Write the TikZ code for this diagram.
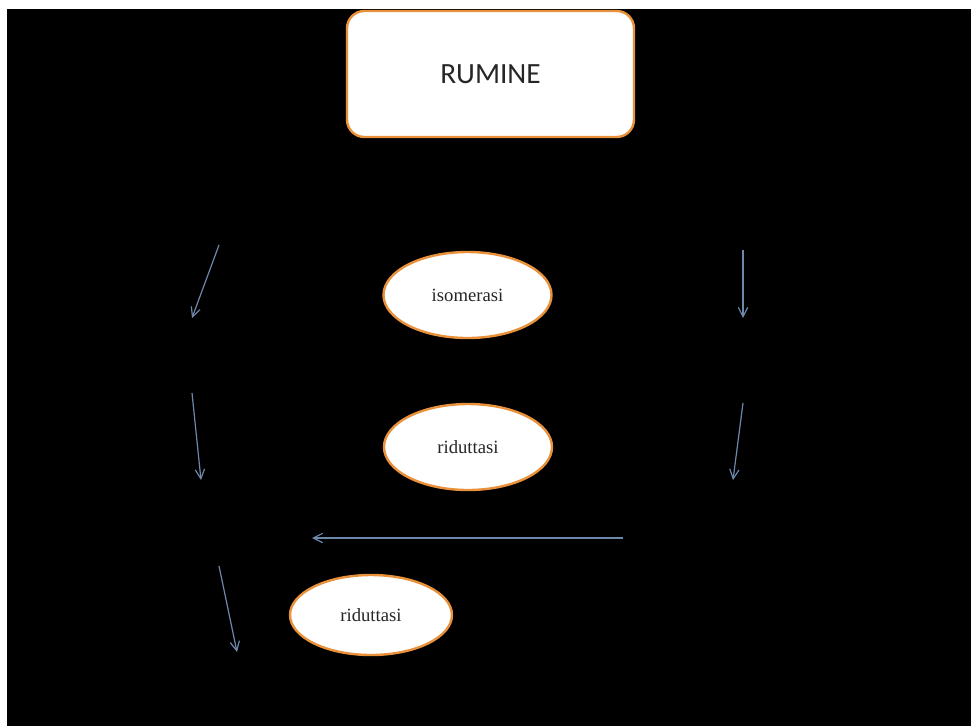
\documentclass[tikz,border=0pt]{standalone}
\usepackage{fontspec}
\setmainfont{Liberation Serif}
\newfontfamily\boxfont{Carlito}
\usetikzlibrary{arrows.meta,shapes.geometric}
\definecolor{arrowblue}{HTML}{6E88AC}
\definecolor{rimorange}{HTML}{E8913A}
\tikzset{
  titlebox/.style={draw=rimorange, line width=1.8pt, fill=white, rounded corners=13pt,
    minimum width=287*0.75pt, minimum height=126*0.75pt, inner sep=0pt,
    font=\boxfont\fontsize{22}{26}\selectfont, text=black!85},
  oval/.style={ellipse, draw=rimorange, line width=1.8pt, fill=white, inner sep=0pt,
    font=\fontsize{14}{16}\selectfont, text=black!85},
  flow/.style={draw=arrowblue, line width=0.9pt, -{Straight Barb[length=7pt,width=7pt]}}
}
\begin{document}
\begin{tikzpicture}[x=0.75pt,y=-0.75pt]
\useasboundingbox (0,0) rectangle (971,726);
\fill[white] (0,0) rectangle (971,726);
\fill[black] (7,9) rectangle (971,726);

\node[titlebox] (rumine) at (490.5,74) {RUMINE};
\node[oval, minimum width=168*0.75pt, minimum height=86*0.75pt] (iso) at (467.5,295) {isomerasi};
\node[oval, minimum width=168*0.75pt, minimum height=86*0.75pt] (rid1) at (468,447) {riduttasi};
\node[oval, minimum width=162*0.75pt, minimum height=80*0.75pt] (rid2) at (371,615) {riduttasi};

\coordinate (a1s) at (219,245);
\coordinate (a1e) at (192,318);
\coordinate (a2s) at (192,393);
\coordinate (a2e) at (201,480);
\coordinate (a3s) at (743,250);
\coordinate (a3e) at (743,318);
\coordinate (a4s) at (743,403);
\coordinate (a4e) at (733,480);
\coordinate (a5s) at (623,538);
\coordinate (a5e) at (312,538);
\coordinate (a6s) at (219,566);
\coordinate (a6e) at (237,652);

\draw[flow] (a1s) -- (a1e);
\draw[flow] (a2s) -- (a2e);
\draw[flow] (a3s) -- (a3e);
\draw[flow] (a4s) -- (a4e);
\draw[flow] (a5s) -- (a5e);
\draw[flow] (a6s) -- (a6e);
\end{tikzpicture}
\end{document}
